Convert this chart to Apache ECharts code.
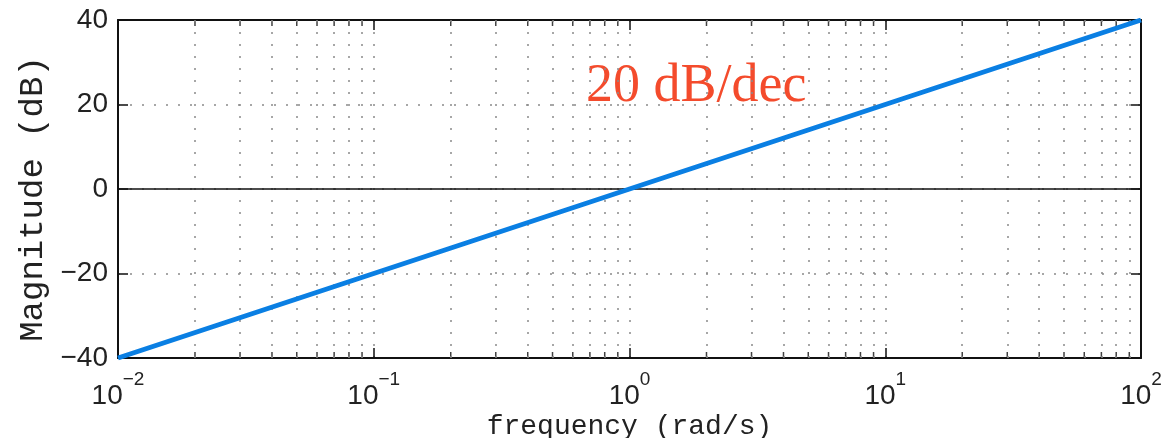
<!DOCTYPE html>
<html>
<head>
<meta charset="utf-8">
<script src="https://cdn.jsdelivr.net/npm/echarts@6/dist/echarts.min.js"></script>
<style>
  html, body { margin: 0; padding: 0; background: #fff; }
  #chart { width: 1168px; height: 438px; }
</style>
</head>
<body>
<div id="chart"></div>
<script>
// Datos de la recta asintótica: 20 dB por década
const frequency = [0.01, 0.1, 1, 10, 100];
const magnitude = [-40, -20, 0, 20, 40];

// Posiciones de las marcas menores del eje logarítmico (2..9 de cada década)
const minorFreqs = [
    0.02, 0.03, 0.04, 0.05, 0.06, 0.07, 0.08, 0.09,
    0.2, 0.3, 0.4, 0.5, 0.6, 0.7, 0.8, 0.9,
    2, 3, 4, 5, 6, 7, 8, 9,
    20, 30, 40, 50, 60, 70, 80, 90
];

const xAxisName = 'frequency (rad/s)';
const yAxisName = 'Magnitude (dB)';
const slopeLabel = '20 dB/dec';

const chart = echarts.init(document.getElementById('chart'), null, { renderer: 'canvas' });

const dotted = { type: [2, 10], color: '#8a8a8a', width: 1.5 };
const frame = { show: true, onZero: false, lineStyle: { color: '#111', width: 2 } };

function expLabel(value) {
    const e = Math.round(Math.log10(value));
    return '{b|10}{s|' + (e < 0 ? '−' + (-e) : e) + '}';
}

const option = {
    backgroundColor: '#fff',
    animation: false,
    grid: { left: 118, right: 27, top: 20, bottom: 80, containLabel: false, outerBoundsMode: 'none' },
    graphic: [{
        type: 'text',
        left: 586,
        top: 60,
        style: {
            text: slopeLabel,
            font: '54px "Liberation Serif"',
            fill: '#f44b2c'
        }
    }],
    xAxis: [{
        type: 'log',
        logBase: 10,
        min: 0.01,
        max: 100,
        position: 'bottom',
        name: xAxisName,
        nameLocation: 'middle',
        nameGap: 55,
        nameMoveOverlap: false,
        nameTextStyle: { fontFamily: 'Liberation Mono', fontSize: 28, color: '#222' },
        axisLine: frame,
        axisTick: { show: true, inside: true, length: 10, lineStyle: { color: '#111', width: 1.5 } },
        axisLabel: {
            margin: 12,
            formatter: expLabel,
            rich: {
                b: { fontFamily: 'Liberation Sans', fontSize: 28, color: '#222', lineHeight: 40, verticalAlign: 'bottom' },
                s: { fontFamily: 'Liberation Sans', fontSize: 19, color: '#222', lineHeight: 12, verticalAlign: 'top' }
            }
        },
        splitLine: { show: true, lineStyle: dotted }
    }, {
        type: 'log',
        logBase: 10,
        min: 0.01,
        max: 100,
        position: 'top',
        axisLine: frame,
        axisTick: { show: true, inside: true, length: 10, lineStyle: { color: '#111', width: 1.5 } },
        axisLabel: { show: false },
        splitLine: { show: false }
    }],
    yAxis: [{
        type: 'value',
        min: -40,
        max: 40,
        interval: 20,
        position: 'left',
        name: yAxisName,
        nameLocation: 'middle',
        nameGap: 68,
        nameRotate: 90,
        nameMoveOverlap: false,
        nameTextStyle: { fontFamily: 'Liberation Mono', fontSize: 34, color: '#222', padding: [0, 20, 0, 0] },
        axisLine: frame,
        axisTick: { show: true, inside: true, length: 10, lineStyle: { color: '#111', width: 1.5 } },
        axisLabel: {
            margin: 10,
            fontFamily: 'Liberation Sans',
            fontSize: 28,
            color: '#222',
            formatter: v => (v < 0 ? '−' + (-v) : String(v))
        },
        splitLine: { show: true, lineStyle: dotted }
    }, {
        type: 'value',
        min: -40,
        max: 40,
        interval: 20,
        position: 'right',
        axisLine: frame,
        axisTick: { show: true, inside: true, length: 10, lineStyle: { color: '#111', width: 1.5 } },
        axisLabel: { show: false },
        splitLine: { show: false }
    }],
    series: [
        {
            // rejilla menor vertical y línea de 0 dB
            type: 'line',
            data: [],
            silent: true,
            z: 1,
            markLine: {
                silent: true,
                symbol: 'none',
                label: { show: false },
                animation: false,
                lineStyle: dotted,
                data: minorFreqs.map(f => ({ xAxis: f })).concat([
                    { yAxis: 0, lineStyle: { type: 'solid', color: '#111', width: 1.5 } }
                ])
            }
        },
        {
            // marcas menores abajo
            type: 'scatter',
            silent: true,
            z: 3,
            symbol: 'rect',
            symbolSize: [1.5, 6],
            symbolOffset: [0, -3],
            itemStyle: { color: '#111' },
            data: minorFreqs.map(f => [f, -40])
        },
        {
            // marcas menores arriba
            type: 'scatter',
            silent: true,
            z: 3,
            symbol: 'rect',
            symbolSize: [1.5, 6],
            symbolOffset: [0, 3],
            itemStyle: { color: '#111' },
            data: minorFreqs.map(f => [f, 40])
        },
        {
            name: 'asymptote',
            type: 'line',
            z: 5,
            data: frequency.map((f, i) => [f, magnitude[i]]),
            showSymbol: false,
            symbol: 'none',
            lineStyle: { color: '#0a7fe3', width: 5 }
        }
    ]
};

chart.setOption(option);
</script>
</body>
</html>
